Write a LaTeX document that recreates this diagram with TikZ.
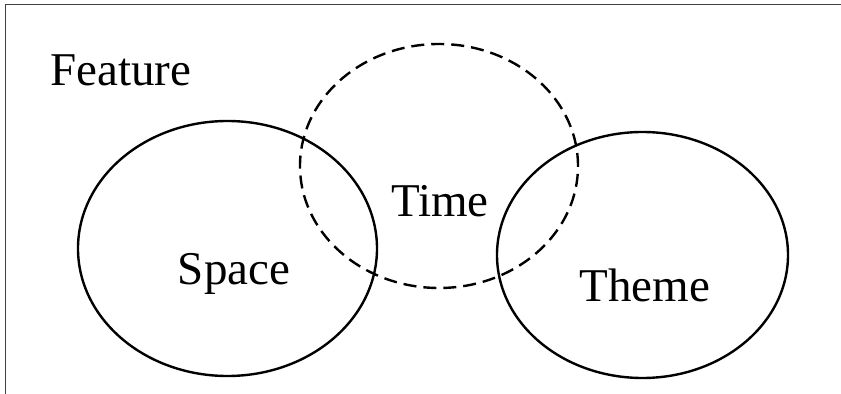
\documentclass[tikz,border=0pt]{standalone}
\usepackage{fontspec}
\setmainfont{Liberation Serif}
\usetikzlibrary{shapes.geometric}
\begin{document}
\begin{tikzpicture}[line join=bevel,
  set/.style={draw,ellipse,inner sep=0pt,line width=2.4bp},
  word/.style={font=\fontsize{47bp}{52bp}\selectfont,inner sep=0pt},
  frame/.style={draw=black!75,line width=1bp}]
%%
\useasboundingbox (0bp,0bp) rectangle (841bp,394bp);
\coordinate (frame_bl) at (5bp,0bp);
\coordinate (frame_tl) at (5bp,389.5bp);
\coordinate (frame_tr) at (841bp,389.5bp);
\draw [frame] (frame_bl) -- (frame_tl) -- (frame_tr);
%
\node (set_space) at (227.5bp,145.5bp) [set,minimum width=299bp,minimum height=255bp] {};
  \node (set_time) at (439bp,228bp) [set,dash pattern=on 13bp off 7bp,minimum width=278bp,minimum height=244bp] {};
  \node (set_theme) at (642.5bp,139bp) [set,minimum width=291bp,minimum height=246bp] {};
%
\node (txt_feature) at (50bp,308bp) [word,anchor=base west] {Feature};
  \node (txt_time) at (440bp,177bp) [word,anchor=base] {Time};
  \node (txt_space) at (234bp,109bp) [word,anchor=base] {Space};
  \node (txt_theme) at (645bp,92bp) [word,anchor=base] {Theme};
%
\end{tikzpicture}
\end{document}
